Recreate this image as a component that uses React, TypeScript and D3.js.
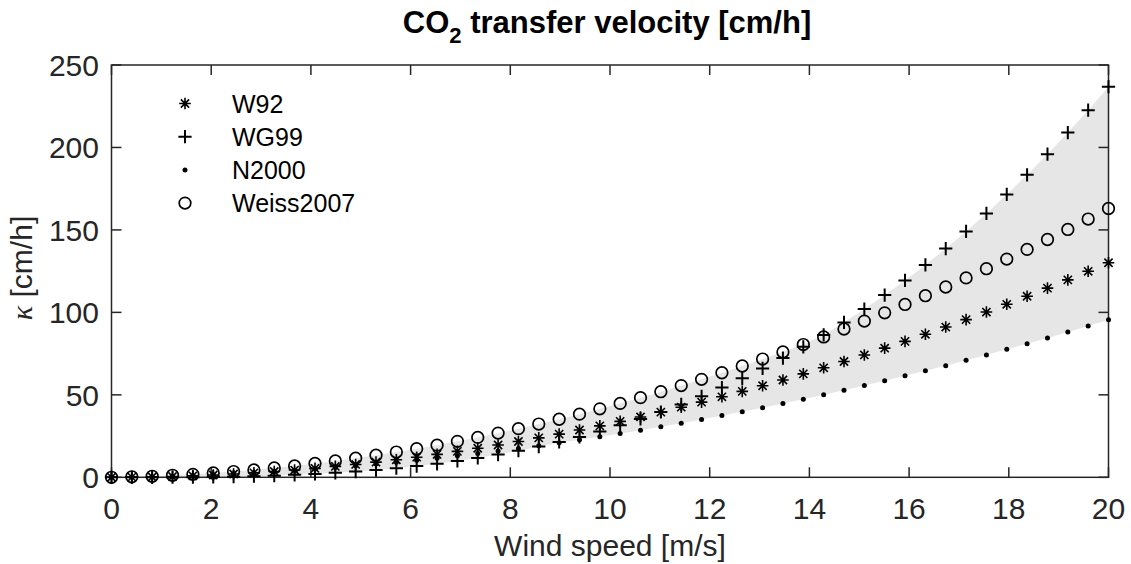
import React from "react";
import * as d3 from "d3";

// Wind speed samples [m/s]
const windSpeed = [
  0, 0.408, 0.816, 1.224, 1.633, 2.041, 2.449, 2.857, 3.265, 3.673,
  4.082, 4.49, 4.898, 5.306, 5.714, 6.122, 6.531, 6.939, 7.347, 7.755,
  8.163, 8.571, 8.98, 9.388, 9.796, 10.204, 10.612, 11.02, 11.429, 11.837,
  12.245, 12.653, 13.061, 13.469, 13.878, 14.286, 14.694, 15.102, 15.51, 15.918,
  16.327, 16.735, 17.143, 17.551, 17.959, 18.367, 18.776, 19.184, 19.592, 20,
];

// Transfer velocity k [cm/h] per parameterisation
const w92 = [
  0, 0.1, 0.2, 0.5, 0.9, 1.4, 2.0, 2.7, 3.5, 4.4,
  5.4, 6.6, 7.8, 9.2, 10.6, 12.2, 13.9, 15.7, 17.6, 19.6,
  21.7, 23.9, 26.2, 28.7, 31.2, 33.9, 36.6, 39.5, 42.5, 45.6,
  48.8, 52.1, 55.5, 59.0, 62.7, 66.4, 70.2, 74.2, 78.3, 82.4,
  86.7, 91.1, 95.6, 100.2, 104.9, 109.8, 114.7, 119.7, 124.9, 130.1,
];
const wg99 = [
  0, 0.0, 0.0, 0.1, 0.1, 0.3, 0.4, 0.7, 1.0, 1.5,
  2.0, 2.7, 3.5, 4.4, 5.5, 6.8, 8.2, 9.9, 11.7, 13.8,
  16.1, 18.6, 21.4, 24.5, 27.8, 31.5, 35.4, 39.6, 44.2, 49.1,
  54.4, 60.0, 66.0, 72.3, 79.1, 86.3, 93.9, 102.0, 110.5, 119.4,
  128.8, 138.7, 149.1, 160.0, 171.5, 183.4, 195.9, 209.0, 222.6, 236.8,
];
const n2000 = [
  0, 0.2, 0.4, 0.7, 1.1, 1.6, 2.1, 2.8, 3.5, 4.2,
  5.1, 6.0, 7.0, 8.0, 9.2, 10.4, 11.6, 13.0, 14.4, 15.9,
  17.5, 19.2, 20.9, 22.7, 24.6, 26.5, 28.5, 30.6, 32.8, 35.0,
  37.4, 39.8, 42.2, 44.8, 47.4, 50.1, 52.8, 55.7, 58.6, 61.6,
  64.6, 67.7, 71.0, 74.2, 77.6, 81.0, 84.5, 88.1, 91.7, 95.5,
];
const weiss2007 = [
  0, 0.3, 0.6, 1.2, 1.8, 2.6, 3.5, 4.5, 5.7, 6.9,
  8.4, 9.9, 11.6, 13.4, 15.3, 17.3, 19.5, 21.8, 24.2, 26.8,
  29.5, 32.3, 35.2, 38.3, 41.5, 44.8, 48.3, 51.9, 55.6, 59.4,
  63.4, 67.5, 71.7, 76.0, 80.5, 85.1, 89.9, 94.7, 99.7, 104.8,
  110.1, 115.4, 120.9, 126.5, 132.3, 138.2, 144.2, 150.3, 156.6, 163.0,
];

const seriesNames = ["W92", "WG99", "N2000", "Weiss2007"];
const seriesValues = [w92, wg99, n2000, weiss2007];
const markerKinds = ["asterisk", "plus", "dot", "circle"];

const xTicks = [0, 2, 4, 6, 8, 10, 12, 14, 16, 18, 20];
const yTicks = [0, 50, 100, 150, 200, 250];

const W = 1131;
const H = 564;
const FONT = "'Liberation Sans', Arial, Helvetica, sans-serif";
const AXIS = "#262626";

function Marker({ kind, x, y }: { kind: string; x: number; y: number }) {
  if (kind === "asterisk") {
    const s = 5.8;
    const d = 4.1;
    return (
      <path
        d={`M${x - s},${y}H${x + s}M${x},${y - s}V${y + s}M${x - d},${y - d}L${x + d},${y + d}M${x - d},${y + d}L${x + d},${y - d}`}
        stroke="#000"
        strokeWidth={1.6}
        fill="none"
      />
    );
  }
  if (kind === "plus") {
    const s = 6.6;
    return (
      <path
        d={`M${x - s},${y}H${x + s}M${x},${y - s}V${y + s}`}
        stroke="#000"
        strokeWidth={2}
        fill="none"
      />
    );
  }
  if (kind === "dot") {
    return <circle cx={x} cy={y} r={2.5} fill="#000" />;
  }
  return <circle cx={x} cy={y} r={5.8} fill="none" stroke="#000" strokeWidth={1.7} />;
}

export default function App() {
  const x = d3.scaleLinear().domain([0, 20]).range([111.5, 1108.5]);
  const y = d3.scaleLinear().domain([0, 250]).range([477.3, 65]);
  const [x0, x1] = x.range();
  const [y0, y1] = y.range();

  const upper = windSpeed.map((_, i) => d3.max(seriesValues, (s) => s[i]) as number);
  const lower = windSpeed.map((_, i) => d3.min(seriesValues, (s) => s[i]) as number);

  const band = d3
    .area<number>()
    .x((_, i) => x(windSpeed[i]))
    .y0((_, i) => y(lower[i]))
    .y1((_, i) => y(upper[i]))(windSpeed) as string;

  const tickLen = 10;

  const legendX = 185;
  const legendTextX = 232;
  const legendY0 = 103.5;
  const legendDy = 33.2;

  return (
    <svg
      width={W}
      height={H}
      style={{ position: "absolute", left: 0, top: 0, background: "#fff" }}
      fontFamily={FONT}
    >
      <rect x={0} y={0} width={W} height={H} fill="#fff" />

      {/* min–max envelope of all parameterisations */}
      <path d={band} fill="#e6e6e6" stroke="none" />

      {/* axis box and inward ticks */}
      <g stroke={AXIS} strokeWidth={1.5} fill="none">
        <rect x={x0} y={y1} width={x1 - x0} height={y0 - y1} />
        {xTicks.map((t) => (
          <g key={`xt${t}`}>
            <line x1={x(t)} x2={x(t)} y1={y0} y2={y0 - tickLen} />
            <line x1={x(t)} x2={x(t)} y1={y1} y2={y1 + tickLen} />
          </g>
        ))}
        {yTicks.map((t) => (
          <g key={`yt${t}`}>
            <line x1={x0} x2={x0 + tickLen} y1={y(t)} y2={y(t)} />
            <line x1={x1} x2={x1 - tickLen} y1={y(t)} y2={y(t)} />
          </g>
        ))}
      </g>

      <g fill={AXIS} fontSize={30}>
        {xTicks.map((t) => (
          <text key={`xl${t}`} x={x(t)} y={518.5} textAnchor="middle">
            {t}
          </text>
        ))}
        {yTicks.map((t) => (
          <text key={`yl${t}`} x={99} y={y(t) + 10.7} textAnchor="end">
            {t}
          </text>
        ))}
      </g>

      {/* data markers */}
      {seriesValues.map((vals, si) => (
        <g key={seriesNames[si]}>
          {vals.map((v, i) => (
            <Marker key={i} kind={markerKinds[si]} x={x(windSpeed[i])} y={y(v)} />
          ))}
        </g>
      ))}

      {/* legend */}
      {seriesNames.map((name, i) => (
        <g key={`lg${name}`}>
          <Marker kind={markerKinds[i]} x={legendX} y={legendY0 + i * legendDy} />
          <text
            x={legendTextX}
            y={legendY0 + i * legendDy + 9}
            fontSize={25}
            fill="#000"
          >
            {name}
          </text>
        </g>
      ))}

      {/* title */}
      <text x={607} y={33} textAnchor="middle" fontSize={31} fontWeight="bold" fill="#000">
        CO
        <tspan fontSize={22} dy={10}>
          2
        </tspan>
        <tspan dy={-10}> transfer velocity [cm/h]</tspan>
      </text>

      {/* axis labels */}
      <text x={610} y={556} textAnchor="middle" fontSize={30} fill={AXIS}>
        Wind speed [m/s]
      </text>
      <text
        transform="translate(32,268) rotate(-90)"
        textAnchor="middle"
        fontSize={30}
        fill={AXIS}
      >
        <tspan fontFamily="'Liberation Serif', 'Times New Roman', serif" fontStyle="italic">
          κ
        </tspan>
        <tspan> [cm/h]</tspan>
      </text>
    </svg>
  );
}
